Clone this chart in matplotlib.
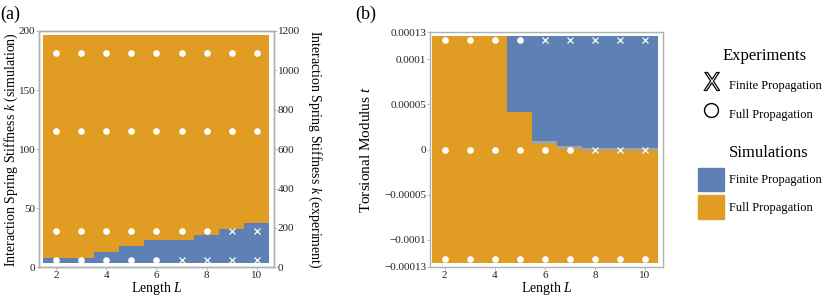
import numpy as np
import matplotlib.pyplot as plt
from matplotlib.lines import Line2D
from matplotlib.patches import Patch
from matplotlib.path import Path
from matplotlib.textpath import TextPath
from matplotlib.font_manager import FontProperties

plt.rcParams['font.family'] = ['Liberation Serif', 'DejaVu Serif']
plt.rcParams['mathtext.fontset'] = 'custom'
plt.rcParams['mathtext.rm'] = 'Liberation Serif'
plt.rcParams['mathtext.it'] = 'Liberation Serif:italic'

BLUE = '#5E81B5'
ORANGE = '#E19C24'
MIXED = '#a8a39a'
FRAME = '#b0b0b0'

# chain lengths
lengths = np.arange(2, 11)

# (a) simulation: finite region from k_min up to k_boundary
k_min, k_max = 3.5, 196.5
k_boundary = [8, 8, 13, 18, 23, 23, 27.5, 32.5, 37.5]
# (a) experiments, 1 = finite propagation
k_exp = [181, 115, 30.5, 6]
a_finite = [
    [0, 0, 0, 0, 0, 0, 0, 0, 0],
    [0, 0, 0, 0, 0, 0, 0, 0, 0],
    [0, 0, 0, 0, 0, 0, 0, 1, 1],
    [0, 0, 0, 0, 0, 1, 1, 1, 1],
]

# (b) simulation: finite above t_boundary, mixed band down to t_mixed
t_min, t_max = -1.255e-4, 1.255e-4
t_boundary = [1.255e-4, 1.255e-4, 1.255e-4, 4.13e-5, 9.9e-6, 4.4e-6, 1.4e-6, 1.4e-6, 1.4e-6]
t_mixed = [1.255e-4, 1.255e-4, 1.255e-4, 4.13e-5, 6.6e-6, 1.1e-6, -1.9e-6, -1.9e-6, -1.9e-6]
# (b) experiments
t_exp = [1.21e-4, 0, -1.22e-4]
b_finite = [
    [0, 0, 0, 0, 1, 1, 1, 1, 1],
    [0, 0, 0, 0, 0, 0, 1, 1, 1],
    [0, 0, 0, 0, 0, 0, 0, 0, 0],
]

t_ticks = [-1.3e-4, -1e-4, -5e-5, 0, 5e-5, 1e-4, 1.3e-4]
t_ticklabels = ['\u22120.00013', '\u22120.0001', '\u22120.00005', '0',
                '0.00005', '0.0001', '0.00013']

edges = np.r_[lengths - 0.5, lengths[-1] + 0.5]

fig = plt.figure(figsize=(8.3, 2.97), dpi=100)
axA = fig.add_axes([39/830, 1 - 267.3/297, 235/830, 236.3/297])
axB = fig.add_axes([430/830, 1 - 266.7/297, 233.3/830, 234.4/297])


def style(ax):
    for s in ax.spines.values():
        s.set_color(FRAME)
        s.set_linewidth(1.0)
    ax.tick_params(direction='out', length=2, width=0.6, color=FRAME,
                   labelsize=8, pad=0.8, labelcolor='#222222')


def experiments(ax, rows, flags):
    for y, f in zip(rows, flags):
        f = np.array(f, dtype=bool)
        ax.plot(lengths[~f], [y] * (~f).sum(), 'o', color='white', ms=4.8, mew=0)
        ax.plot(lengths[f], [y] * f.sum(), 'x', color='white', ms=4.5, mew=0.9)


# ---- panel (a)
axA.stairs(k_boundary, edges, baseline=k_min, fill=True, color=BLUE, lw=0)
axA.stairs(np.full(len(lengths), k_max), edges, baseline=k_boundary, fill=True,
           color=ORANGE, lw=0)
experiments(axA, k_exp, a_finite)
axA.set_xlim(1.33, 10.68)
axA.set_ylim(0, 200)
axA.set_xticks([2, 4, 6, 8, 10])
axA.set_yticks([0, 50, 100, 150, 200])
style(axA)
axA.set_xlabel('Length $L$', fontsize=10, labelpad=0)
axA.set_ylabel('Interaction Spring Stiffness $k$ (simulation)', fontsize=10, labelpad=-1)

axA2 = axA.twinx()
axA2.set_ylim(0, 1200)
axA2.set_yticks(np.arange(0, 1201, 200))
style(axA2)
axA2.set_ylabel('Interaction Spring Stiffness $k$ (experiment)', fontsize=10,
                rotation=270, va='bottom', labelpad=4)

# ---- panel (b)
axB.stairs(t_mixed, edges, baseline=t_min, fill=True, color=ORANGE, lw=0)
axB.stairs(t_boundary, edges, baseline=t_mixed, fill=True, color=MIXED, lw=0)
axB.stairs(np.full(len(lengths), t_max), edges, baseline=t_boundary, fill=True,
           color=BLUE, lw=0)
experiments(axB, t_exp, b_finite)
axB.set_xlim(1.41, 10.73)
axB.set_ylim(-1.3e-4, 1.3e-4)
axB.set_xticks([2, 4, 6, 8, 10])
axB.set_yticks(t_ticks)
axB.set_yticklabels(t_ticklabels)
style(axB)
axB.set_xlabel('Length $L$', fontsize=10, labelpad=0)
axB.set_ylabel('Torsional Modulus $t$', fontsize=11, labelpad=8)

fig.text(0.0, 1 - 14/297, '(a)', fontsize=13, va='center', ha='left')
fig.text(355/830, 1 - 14/297, '(b)', fontsize=13, va='center', ha='left')

# ---- legends
tp = TextPath((0, 0), 'X', size=1, prop=FontProperties(family='DejaVu Sans'))
v = tp.vertices
x_marker = Path(v - (v.max(axis=0) + v.min(axis=0)) / 2, tp.codes)

exp_handles = [
    Line2D([], [], ls='none', marker=x_marker, ms=13, mfc='white', mec='black', mew=0.9),
    Line2D([], [], ls='none', marker='o', ms=10, mfc='white', mec='black', mew=1.0),
]
sim_handles = [Patch(color=BLUE), Patch(color=ORANGE)]
labels = ['Finite Propagation', 'Full Propagation']

leg_kw = dict(loc='upper left', frameon=False, fontsize=9,
              handlelength=2.1, handleheight=2.5, handletextpad=0.4,
              borderpad=0, borderaxespad=0)
fig.text(765/830, 1 - 56/297, 'Experiments', fontsize=12, ha='center', va='center')
fig.legend(exp_handles, labels, bbox_to_anchor=(698/830, 1 - 73/297),
           labelspacing=0.5, **leg_kw)
fig.text(769/830, 1 - 153/297, 'Simulations', fontsize=12, ha='center', va='center')
fig.legend(sim_handles, labels, bbox_to_anchor=(698/830, 1 - 168/297),
           labelspacing=0.32, **leg_kw)

fig.savefig('out.png', dpi=100)
